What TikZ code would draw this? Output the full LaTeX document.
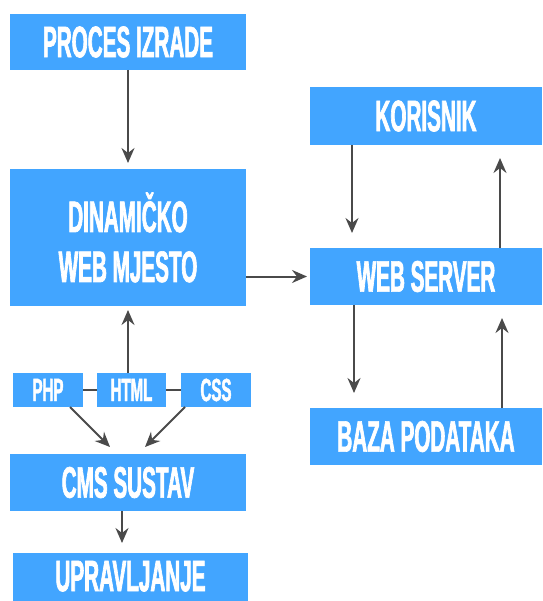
\documentclass[tikz,border=0pt]{standalone}
\usepackage{fontspec}
\newfontfamily\boxfont[FakeStretch=0.47,FakeBold=1.5]{Liberation Sans}
\usetikzlibrary{arrows.meta}
\definecolor{boxblue}{RGB}{66,165,255}
\definecolor{arrgray}{RGB}{74,74,74}
\tikzset{
  box/.style={fill=boxblue, text=white, inner sep=0pt, outer sep=0pt, align=center,
    font=\boxfont\bfseries\fontsize{44}{50}\selectfont},
  onebox/.style={box, text height=30.3pt, text depth=0pt},
  smallbox/.style={box, font=\boxfont\bfseries\fontsize{32}{36}\selectfont,
    text height=22pt, text depth=0pt,
    minimum width=70pt, minimum height=34pt},
  arr/.style={draw=arrgray, line width=2pt, -{Stealth[length=15pt,width=13pt,inset=5pt]}},
  link/.style={draw=arrgray, line width=2pt}
}
\begin{document}
\begin{tikzpicture}[x=1pt,y=-1pt]
\useasboundingbox (0,0) rectangle (542,601);
% boxes
\node[onebox, minimum width=236pt, minimum height=56pt] (proc) at (128,42) {PROCES IZRADE};
\node[box, minimum width=236pt, minimum height=137pt] (dyn) at (128,237.5) {DINAMIČKO\\WEB MJESTO};
\node[onebox, minimum width=232pt, minimum height=58pt] (kor) at (426,116) {KORISNIK};
\node[onebox, minimum width=232pt, minimum height=57pt] (web) at (426,276.5) {WEB SERVER};
\node[onebox, minimum width=232pt, minimum height=57pt] (baza) at (426,436.5) {BAZA PODATAKA};
\node[smallbox] (php) at (48,390) {PHP};
\node[smallbox, minimum width=69pt] (html) at (131.5,390) {HTML};
\node[smallbox] (css) at (216,390) {CSS};
\node[onebox, minimum width=236pt, minimum height=57pt] (cms) at (128,482.5) {CMS SUSTAV};
\node[onebox, text depth=2pt, minimum width=235pt, minimum height=48pt] (upr) at (130.5,577) {UPRAVLJANJE};
% connectors
\draw[arr, shorten >=6pt] (proc.south) -- (dyn.north);
\draw[arr, shorten >=4pt] (dyn.south |- html.north) -- (dyn.south);
\draw[link] (php.east) -- (html.west);
\draw[link] (html.east) -- (css.west);
\draw[arr, shorten >=9.9pt] ([xshift=22pt]php.south) -- ([xshift=-11pt]cms.north);
\draw[arr, shorten >=9.9pt] ([xshift=-31pt]css.south) -- ([xshift=10pt]cms.north);
\draw[arr, shorten >=10pt] ([xshift=-6pt]cms.south) -- ([xshift=-6pt]cms.south |- upr.north);
\draw[arr, shorten >=3pt] (dyn.east |- web.west) -- (web.west);
\draw[arr, shorten >=15pt] ([xshift=-74pt]kor.south) -- ([xshift=-74pt]kor.south |- web.north);
\draw[arr, shorten >=13pt] ([xshift=74pt]web.north) -- ([xshift=74pt]web.north |- kor.south);
\draw[arr, shorten >=15pt] ([xshift=-72pt]web.south) -- ([xshift=-72pt]web.south |- baza.north);
\draw[arr, shorten >=13pt] ([xshift=76pt]baza.north) -- ([xshift=76pt]baza.north |- web.south);
\end{tikzpicture}
\end{document}
